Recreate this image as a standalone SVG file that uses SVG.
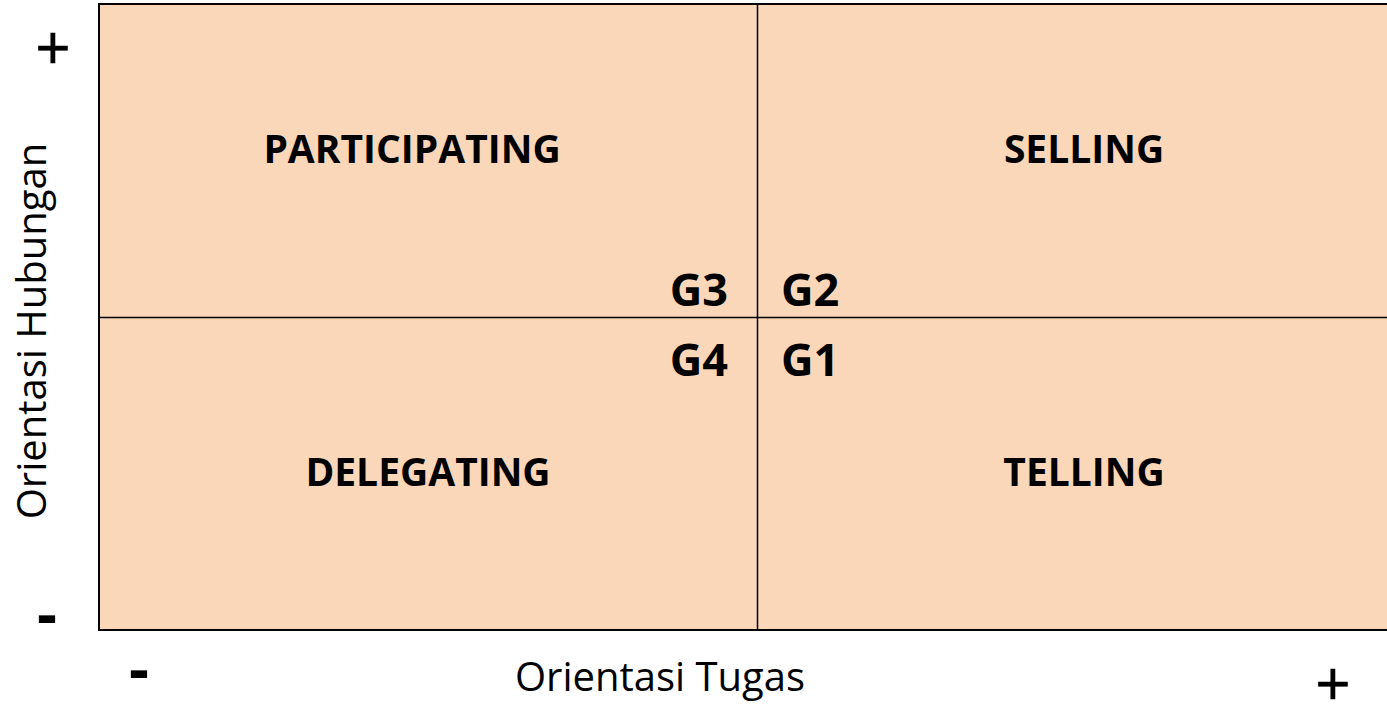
<svg xmlns="http://www.w3.org/2000/svg" width="1387" height="704" viewBox="0 0 1387 704">
<style>
.q{font-family:"Open Sans","Liberation Sans",sans-serif;font-weight:bold;font-size:39px;fill:#000;text-anchor:middle}
.g{font-family:"Open Sans","Liberation Sans",sans-serif;font-weight:bold;font-size:45px;fill:#000}
.ax{font-family:"Open Sans","Liberation Sans",sans-serif;font-size:40px;fill:#000;text-anchor:middle}
.sym{font-family:"Open Sans","Liberation Sans",sans-serif;font-weight:bold;font-size:62px;fill:#000;text-anchor:middle}
.plus{font-family:"Open Sans","Liberation Sans",sans-serif;font-size:62px;fill:#000;text-anchor:middle;stroke:#000;stroke-width:0.6}
</style>
<rect x="0" y="0" width="1387" height="704" fill="#fff"/>
<g id="grid">
<rect x="99" y="4" width="1300" height="626" fill="#FBD7BA" stroke="#000" stroke-width="2"/>
</g>
<g id="connectors">
<line x1="757.5" y1="4" x2="757.5" y2="630" stroke="#000" stroke-width="1.5"/>
<line x1="99" y1="317.5" x2="1387" y2="317.5" stroke="#000" stroke-width="1.5"/>
</g>
<g id="participating"><text class="q" x="412" y="163">PARTICIPATING</text></g>
<g id="selling"><text class="q" x="1084" y="163">SELLING</text></g>
<g id="delegating"><text class="q" x="428" y="486">DELEGATING</text></g>
<g id="telling"><text class="q" x="1084" y="486">TELLING</text></g>
<g id="g3"><text class="g" x="728" y="306" text-anchor="end">G3</text></g>
<g id="g2"><text class="g" x="781" y="306">G2</text></g>
<g id="g4"><text class="g" x="728" y="376" text-anchor="end">G4</text></g>
<g id="g1"><text class="g" x="781" y="376">G1</text></g>
<g id="axes">
<text class="ax" x="660" y="691">Orientasi Tugas</text>
<text class="ax" transform="translate(46,331) rotate(-90)">Orientasi Hubungan</text>
<text class="plus" x="53" y="70">+</text>
<text class="sym" x="47" y="636">-</text>
<text class="sym" x="139" y="691">-</text>
<text class="plus" x="1333" y="706">+</text>
</g>
</svg>
